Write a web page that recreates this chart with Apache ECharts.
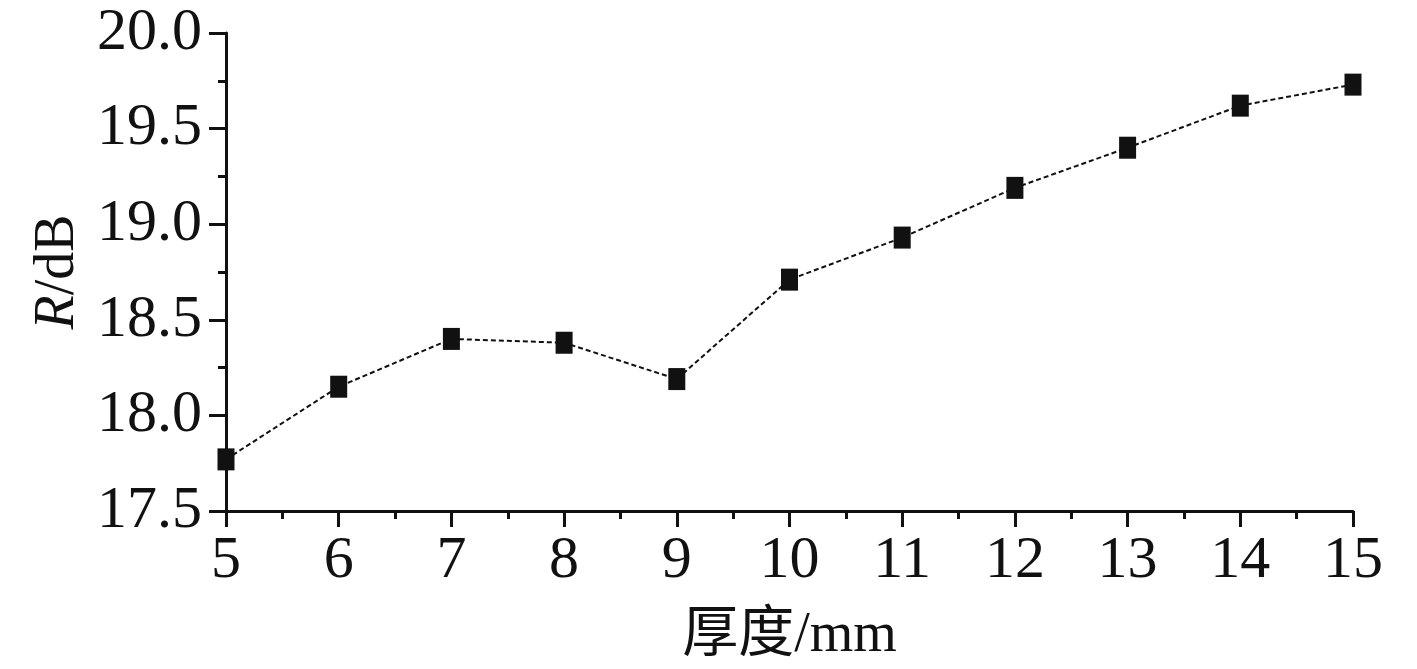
<!DOCTYPE html>
<html>
<head>
<meta charset="utf-8">
<script src="https://cdn.jsdelivr.net/npm/echarts@6/dist/echarts.min.js"></script>
<style>html,body{margin:0;padding:0;background:#fff}#c{width:1417px;height:669px}</style>
</head>
<body>
<div id="c"></div>
<script>
const thickness = [5, 6, 7, 8, 9, 10, 11, 12, 13, 14, 15];
const R = [17.77, 18.15, 18.40, 18.38, 18.19, 18.71, 18.93, 19.19, 19.40, 19.62, 19.73];
const xTitle = '厚度/mm';

const font = '"Liberation Serif", "Times New Roman", "Noto Sans CJK SC", serif';
const chart = echarts.init(document.getElementById('c'), null, {renderer: 'canvas'});
chart.setOption({
  backgroundColor: '#fff',
  animation: false,
  grid: {left: 226, right: 64, top: 33, bottom: 156},
  xAxis: {
    type: 'value', min: 5, max: 15, interval: 1,
    name: xTitle, nameLocation: 'middle', nameGap: 97,
    nameTextStyle: {fontFamily: font, fontSize: 56, color: '#111'},
    axisLine: {show: true, onZero: false, lineStyle: {color: '#111', width: 3}},
    axisTick: {show: true, inside: false, length: 16, lineStyle: {color: '#111', width: 3}},
    minorTick: {show: true, splitNumber: 2, length: 8, lineStyle: {color: '#111', width: 3}},
    axisLabel: {fontFamily: font, fontSize: 60, color: '#111', margin: 20},
    splitLine: {show: false}
  },
  yAxis: {
    type: 'value', min: 17.5, max: 20.0, interval: 0.5,
    name: '{i|R}{n|/dB}', nameLocation: 'middle', nameGap: 136, nameRotate: 90,
    nameTextStyle: {
      fontFamily: font, fontSize: 56, color: '#111',
      rich: {
        i: {fontFamily: font, fontSize: 56, fontStyle: 'italic', color: '#111'},
        n: {fontFamily: font, fontSize: 56, color: '#111'}
      }
    },
    axisLine: {show: true, onZero: false, lineStyle: {color: '#111', width: 3}},
    axisTick: {show: true, inside: false, length: 17, lineStyle: {color: '#111', width: 3}},
    minorTick: {show: true, splitNumber: 2, length: 8, lineStyle: {color: '#111', width: 3}},
    axisLabel: {fontFamily: font, fontSize: 60, color: '#111', margin: 24,
      formatter: v => v.toFixed(1)},
    splitLine: {show: false}
  },
  series: [{
    type: 'line',
    data: thickness.map((x, i) => [x, R[i]]),
    symbol: 'rect', symbolSize: [17, 22],
    itemStyle: {color: '#111'},
    lineStyle: {color: '#111', width: 2, type: [5, 3]},
    clip: false
  }]
});
</script>
</body>
</html>
